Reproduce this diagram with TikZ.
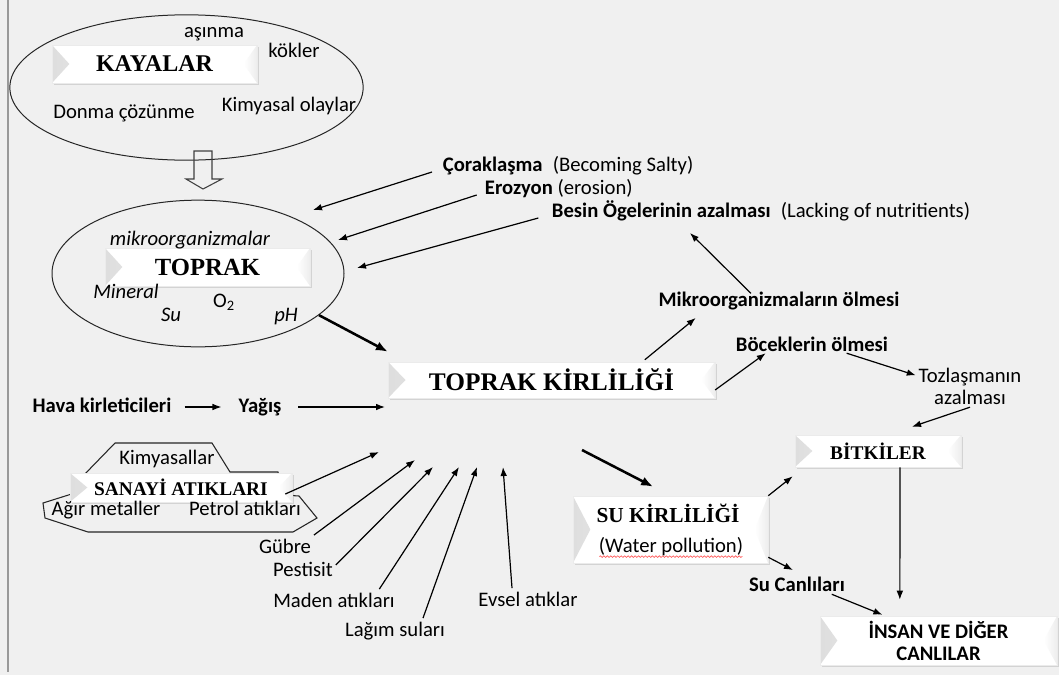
\documentclass[tikz,border=0pt]{standalone}
\usepackage{fontspec}
\setmainfont{Carlito}
\newfontfamily\serifb{Liberation Serif}
\usepackage{tikz}
\usetikzlibrary{positioning,shapes.geometric,shadows,arrows.meta,decorations.pathmorphing}
\definecolor{bgray}{RGB}{240,240,240}
\tikzset{%
  lbl/.style={
    font=\fontsize{15.5}{16.5}\selectfont,
    inner sep=2pt,
    text height=11.5pt,
    text depth=3.5pt
  },
  lbl bold/.style={lbl, font=\fontsize{15.5}{16.5}\selectfont\bfseries},
  lbl it/.style={lbl, font=\fontsize{15.5}{16.5}\selectfont\itshape},
  lbl two/.style={
    font=\fontsize{15.5}{16.5}\selectfont,
    inner sep=2pt,
    align=center
  },
  bevel box/.style={
    fill=white,
    draw=black!8,
    inner sep=0pt,
    drop shadow={shadow xshift=1.5pt, shadow yshift=-1.5pt, opacity=0.25},
    path picture={
      \shade[left color=black!13, right color=white]
        (path picture bounding box.north west) -- ([xshift=13pt]path picture bounding box.west)
        -- (path picture bounding box.south west) -- cycle;
      \shade[left color=white, right color=black!7]
        (path picture bounding box.north east) -- ([xshift=-10pt]path picture bounding box.east)
        -- (path picture bounding box.south east) -- cycle;
    }
  },
  box title/.style={font=\serifb\bfseries\fontsize{#1}{#1}\selectfont},
  conn/.style={->, line width=0.9pt},
  heavy conn/.style={-{Latex[length=9pt,width=7pt]}, line width=1.9pt},
  ring/.style={ellipse, draw=black!85, line width=0.75pt, inner sep=0pt},
}

\begin{document}
\begin{tikzpicture}[x=0.75pt, y=-0.75pt, >={Latex[length=6.75pt,width=5pt]}]

\fill[bgray] (0,0) rectangle (1059,675);
\useasboundingbox (0,0) rectangle (1059,675);
\draw[black!40, line width=0.8pt] (8,0) -- (8,672);

\node[ring, minimum width=265pt, minimum height=109pt] (rock-ell) at (186.5,87.5) {};
\node[ring, minimum width=219pt, minimum height=110pt] (soil-ell) at (198,273.5) {};

\draw[black!75, line width=0.8pt] (194,151) -- (212,151) -- (212,179) -- (222,179)
  -- (203,189) -- (186,179) -- (194,179) -- cycle;

\node[bevel box, box title=18, minimum width=153.75pt, minimum height=28.5pt] (kayalar) at (154.5,64) {KAYALAR};
\node[lbl] (asinma) at (214,32) {aşınma};
\node[lbl] (kokler) at (294,52) {kökler};
\node[lbl] (kimyasal) at (289,106) {Kimyasal olaylar};
\node[lbl] (donma) at (124,113) {Donma çözünme};

\node[bevel box, box title=18.5, minimum width=153.75pt, minimum height=28.5pt] (toprak) at (207.5,267) {TOPRAK};
\node[lbl it] (mikro) at (190,240) {mikroorganizmalar};
\node[lbl it] (mineral) at (126,293) {Mineral};
\node[lbl] (oksijen) at (224,302) {O\textsubscript{2}};
\node[lbl it] (su) at (171,316) {Su};
\node[lbl it] (ph) at (286,316) {pH};

\node[lbl, anchor=west] (cor) at (440,166) {\textbf{Çoraklaşma}\enspace(Becoming Salty)};
\node[lbl, anchor=west] (ero) at (482,189) {\textbf{Erozyon} (erosion)};
\node[lbl, anchor=west] (besin) at (549,212) {\textbf{Besin Ögelerinin azalması}\enspace(Lacking of nutritients)};

\coordinate (cor-tip) at (313,210);
\coordinate (ero-tip) at (338,240);
\coordinate (besin-tip) at (357,268);
\draw[conn] ([shift={(-6pt,-4.5pt)}]cor.west) -- (cor-tip);
\draw[conn] ([shift={(-4pt,-4.5pt)}]ero.west) -- (ero-tip);
\draw[conn] ([shift={(-8pt,-4.5pt)}]besin.west) -- (besin-tip);

\node[bevel box, box title=19, minimum width=245pt, minimum height=27pt] (tk) at (551.5,380) {TOPRAK KİRLİLİĞİ};
\draw[heavy conn] (soil-ell.-19.2) -- ([yshift=7.5pt]tk.north west);

\node[lbl bold] (hava) at (102,407) {Hava kirleticileri};
\node[lbl bold] (yagis) at (260,407) {Yağış};
\coordinate (yagis-tip) at (385,407);
\draw[conn] ([xshift=7.75pt]hava.east) -- ([xshift=-10.7pt]yagis.west);
\draw[conn] ([xshift=10.5pt]yagis.east) -- (yagis-tip);

\node[lbl bold] (mikrol) at (779,301) {Mikroorganizmaların ölmesi};
\node[lbl bold] (boc) at (812,346) {Böceklerin ölmesi};
\node[lbl two] (toz) at (970,386) {Tozlaşmanın\\azalması};
\coordinate (besin-in) at (690,233);
\draw[conn] ([shift={(-21pt,-4pt)}]mikrol.north) -- (besin-in);
\draw[conn] ([shift={(70pt,1.5pt)}]tk.north) -- ([shift={(30pt,-3pt)}]mikrol.south west);
\draw[conn] ([yshift=-7.5pt]tk.east) -- ([shift={(24.5pt,4.3pt)}]boc.south west);
\draw[conn] ([shift={(26pt,4.3pt)}]boc.south) -- ([yshift=8pt]toz.west);

\node[bevel box, box title=14.5, minimum width=124.5pt, minimum height=24pt] (bitkiler) at (878,451) {BİTKİLER};
\draw[conn] (toz.south) -- ([shift={(25.5pt,6pt)}]bitkiler.north);

\node[bevel box, minimum width=146.25pt, minimum height=50.25pt] (sukir) at (670.5,529.5) {};
\node[box title=16, inner sep=0pt] (sukir-t) at (668,513) {SU KİRLİLİĞİ};
\node[lbl] (water) at (671,547) {(Water pollution)};
\draw[red!65, line width=0.5pt, decorate, decoration={snake, amplitude=0.6pt, segment length=2.6pt}]
  ([shift={(2.5pt,2.5pt)}]water.south west) -- ([shift={(-2.5pt,2.5pt)}]water.south east);

\coordinate (tk-su) at (582,450);
\draw[heavy conn] (tk-su) -- ([shift={(-13pt,6.75pt)}]sukir.north);

\node[lbl bold] (sucan) at (797,586) {Su Canlıları};
\node[bevel box, lbl two, font=\fontsize{15.5}{16.5}\selectfont\bfseries, minimum width=177.75pt, minimum height=36.75pt] (insan) at (938.5,640.5) {İNSAN VE DİĞER\\CANLILAR};

\draw[conn] (sukir.north east) -- ([shift={(-1.5pt,-6.75pt)}]bitkiler.south west);
\draw[conn] ([yshift=4.5pt]sukir.south east) -- ([shift={(-3pt,2.25pt)}]sucan.north);
\draw[conn] ([shift={(-12pt,3.5pt)}]sucan.south east) -- ([shift={(47pt,0.75pt)}]insan.north west);
\draw[conn] ([xshift=16.5pt]bitkiler.south) -- ([shift={(-29pt,12pt)}]insan.north);

\draw[line width=0.8pt, black!85] (115,443) -- (212,443) -- (230,472) -- (278,472) -- (283,495)
  -- (299,496) -- (317,518) -- (293,532) -- (88,532) -- (45,518) -- (43,503) -- (78,492)
  -- (78,482) -- (82,477) -- cycle;
\node[lbl] (kimyasallar) at (167,459) {Kimyasallar};
\node[bevel box, box title=14.5, minimum width=166.5pt, minimum height=21.75pt] (sanayi) at (181,487.5) {SANAYİ ATIKLARI};
\node[lbl] (agir) at (106,510) {Ağır metaller};
\node[lbl] (petrol) at (245,510) {Petrol atıkları};

\node[lbl] (gubre) at (285,548) {Gübre};
\node[lbl] (pestisit) at (303,571) {Pestisit};
\node[lbl] (maden) at (334,602) {Maden atıkları};
\node[lbl] (lagim) at (395,631) {Lağım suları};
\node[lbl] (evsel) at (528,601) {Evsel atıklar};

\foreach \x/\y [count=\i] in {379/452, 415/460, 433/467, 459/467, 477/467, 503/467}
  \coordinate (tk-in\i) at (\x,\y);

\draw[conn] ([shift={(-5.25pt,-4.9pt)}]sanayi.east) -- (tk-in1);
\draw[conn] (gubre.north east) -- (tk-in2);
\draw[conn] ([yshift=4.5pt]pestisit.east) -- (tk-in3);
\draw[conn] ([xshift=34pt]maden.north) -- (tk-in4);
\draw[conn] ([xshift=21pt]lagim.north) -- (tk-in5);
\draw[conn] ([xshift=-12pt]evsel.north) -- (tk-in6);

\end{tikzpicture}
\end{document}
